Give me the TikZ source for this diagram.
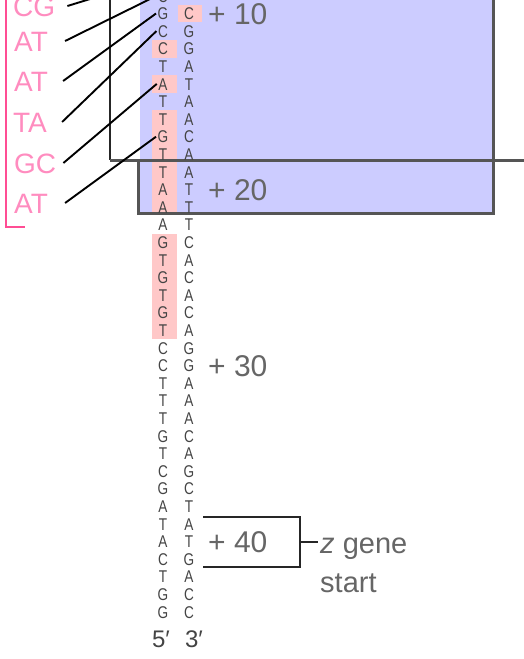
\documentclass[tikz,border=0pt]{standalone}
\usepackage{fontspec}
\setmainfont{Liberation Sans}
\newfontfamily\dnafont[FakeStretch=0.8]{Liberation Sans}
\definecolor{dnagray}{HTML}{444444}
\definecolor{numgray}{HTML}{666666}
\definecolor{lblpink}{HTML}{FF8CBF}
\definecolor{brkpink}{HTML}{FF4D94}
\definecolor{hlpink}{HTML}{FFC8C8}
\definecolor{boxblue}{HTML}{CCCCFF}
\definecolor{framegray}{HTML}{555555}
\begin{document}
\begin{tikzpicture}[x=1pt,y=-1pt,
  base/.style={text=dnagray, font=\dnafont\fontsize{17}{17}\selectfont, inner sep=0pt, inner xsep=1.5pt, text height=12.2pt, text depth=0pt},
  numlbl/.style={text=numgray, font=\fontsize{30}{30}\selectfont, inner sep=0pt, anchor=west, text height=21.5pt, text depth=0pt},
  mutlbl/.style={text=lblpink, font=\fontsize{28}{28}\selectfont, inner sep=0pt, anchor=west, text height=20pt, text depth=0pt},
  endlbl/.style={text=dnagray, font=\fontsize{24}{24}\selectfont, inner sep=0pt, text height=17.2pt, text depth=0pt},
  genelbl/.style={text=numgray, font=\fontsize{29}{29}\selectfont, inner sep=0pt, anchor=base west},
  mutline/.style={black, line width=1.9pt},
  frameline/.style={framegray, line width=3pt},
  boxline/.style={black!85, line width=2pt},
  hl/.style={fill=hlpink}
]
\useasboundingbox (0,0) rectangle (523,659);
% blue region
\fill[boxblue] (140,-5) rectangle (493,213);
% pink highlights
\fill[hl] (152,39.9) rectangle (177,57.5);
\fill[hl] (152,75.1) rectangle (177,92.7);
\fill[hl] (152,110.3) rectangle (177,213);
\fill[hl] (152,233.5) rectangle (177,339.1);
\fill[hl] (178,4.7) rectangle (202,22.3);
% frames
\draw[boxline] (110,-5) -- (110,160);
\draw[frameline] (110,160) -- (530,160);
\draw[frameline] (493,-5) -- (493,213) -- (138,213) -- (138,160);
% pink bracket
\draw[brkpink, line width=2pt] (6,-5) -- (6,227) -- (25,227);
% DNA strands
\node[base] (Ltop) at (163,-4.1) {C};
\foreach \b [count=\k from 0] in {G,C,C,T,A,T,T,G,T,T,A,A,A,G,T,G,T,G,T,C,C,T,T,T,G,T,C,G,A,T,A,C,T,G,G}
  \node[base] (L\k) at (163,{13.5+17.6*\k}) {\b};
\foreach \b [count=\k from 0] in {C,G,G,A,T,A,A,C,A,A,T,T,T,C,A,C,A,C,A,G,G,A,A,A,C,A,G,C,T,A,T,G,A,C,C}
  \node[base] (R\k) at (189,{13.5+17.6*\k}) {\b};
\node[endlbl] (five) at (161,639) {5′};
\node[endlbl] (three) at (194,639) {3′};
% mutation labels
\node[mutlbl] (m1) at (13,6) {CG};
\node[mutlbl] (m2) at (14,41) {AT};
\node[mutlbl] (m3) at (14,81) {AT};
\node[mutlbl] (m4) at (13,122) {TA};
\node[mutlbl] (m5) at (14,163) {GC};
\node[mutlbl] (m6) at (14,203) {AT};
\coordinate (topend) at (155,-21);
\draw[mutline] ([xshift=12pt]m1.east) -- (topend);
\draw[mutline] ([xshift=17pt]m2.east) -- (Ltop.west);
\draw[mutline] ([xshift=15pt]m3.east) -- (L0.west);
\draw[mutline] ([xshift=15pt]m4.east) -- (L1.west);
\draw[mutline] ([xshift=7pt]m5.east) -- (L4.west);
\draw[mutline] ([xshift=17pt]m6.east) -- (L7.west);
% position numbers
\node[numlbl] (n10) at (208,13.5) {+ 10};
\node[numlbl] (n20) at (208,189.5) {+ 20};
\node[numlbl] (n30) at (208,365.5) {+ 30};
\node[numlbl] (n40) at (208,541.5) {+ 40};
% z gene start bracket
\draw[boxline] (203,517) -| (300,567) -- (203,567);
\coordinate (tick) at (300,542);
\node[genelbl] (zg) at (320,553) {\textit{z} gene};
\node[genelbl] (st) at (320,592) {start};
\draw[boxline, line width=2.5pt] (tick) -- ++(18,0);
\end{tikzpicture}
\end{document}
